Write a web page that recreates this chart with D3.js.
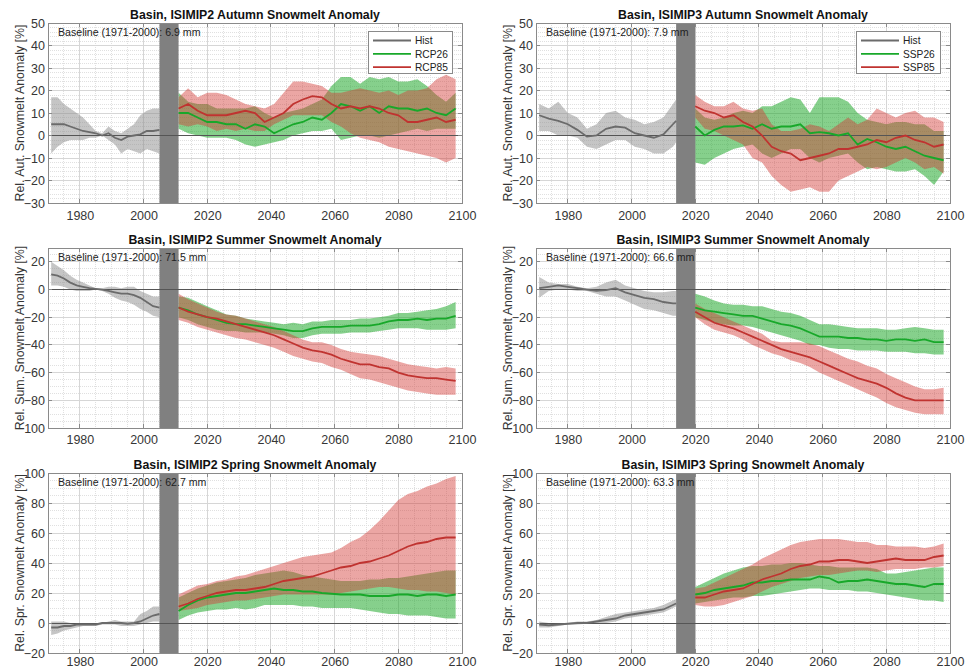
<!DOCTYPE html>
<html>
<head>
<meta charset="utf-8">
<script src="https://cdn.jsdelivr.net/npm/d3@7"></script>
<style>
  html, body { margin: 0; padding: 0; background: #fff; }
  svg { display: block; font-family: "Liberation Sans", Arial, sans-serif; }
</style>
</head>
<body>
<svg id="chart" width="965" height="670"></svg>
<script>
// ---- time axes -------------------------------------------------------------
const yrsHist2 = [1971,1973,1975,1977,1979,1981,1983,1985,1987,1989,1991,1993,1995,1997,1999,2001,2003,2005];
const yrsFut2  = [2011,2014,2017,2020,2023,2026,2029,2032,2035,2038,2041,2044,2047,2050,2053,2056,2059,2062,2065,2068,2071,2074,2077,2080,2083,2086,2089,2092,2095,2098];
const yrsHist3 = [1971,1974,1977,1980,1983,1986,1989,1992,1995,1998,2001,2004,2007,2010,2013,2014];
const yrsFut3  = [2020,2023,2026,2029,2032,2035,2038,2041,2044,2047,2050,2053,2056,2059,2062,2065,2068,2071,2074,2077,2080,2083,2086,2089,2092,2095,2098];
const xTicks = [1980,2000,2020,2040,2060,2080,2100];

// ---- Autumn, ISIMIP2 ------------------------------------------------------
const aut2HistMean = [5,5,5,4,3,2,1.5,1,0,1,-1,-2,-0.5,0,0.5,2,2,2.5];
const aut2HistLo   = [-8,-5,-3,-2,-2,-2,-1,-1,0,-2,-4,-8,-6,-7,-8,-6,-7,-8];
const aut2HistHi   = [17,17,14,12,10,8,5,2,1,4,2,1,3,5,9,11,12,12];
const aut2R26Mean  = [10,10,8,6,6,5,5,3,5,4,1,3,5,6,8,7,10,14,13,11,13,10,13,12,12,11,12,10,9,12];
const aut2R26Hi    = [19,15,14,14,12,12,12,12,13,10,8,10,11,12,14,16,22,26,26,23,26,25,26,24,24,25,22,18,15,19];
const aut2R26Lo    = [3,1,0,-1,-1,-1,-2,-4,-5,-4,-3,-2,0,1,2,2,3,-2,-1,0,0,-1,0,1,2,3,2,3,3,3];
const aut2R85Mean  = [12,14,11,9,9,9,10,11,10,6,8,10,14,16,17.5,17,14,12,13,12,13,12,10,9,6,6,7,8,6,7];
const aut2R85Hi    = [17,21,17,19,19,18,16,14,13,12,14,19,24,24,23,22,19,19,20,21,20,19,20,18,20,20,21,25,27,25];
const aut2R85Lo    = [5,4,5,4,2,3,2,3,2,2,5,7,9,9,9,9,6,4,1,-1,-2,-3,-5,-6,-7,-8,-9,-10,-12,-10];

// ---- Autumn, ISIMIP3 ------------------------------------------------------
const aut3HistMean = [9,7.5,6.5,5,2.5,-0.5,0,3,4,3.5,1,0,-1,0.5,5,6.5];
const aut3HistHi   = [14,12,15,10,8,3,5,10,11,8,7,5,6,8,14,16];
const aut3HistLo   = [2,2,0,0,-1,-5,-6,-4,-2,-2,-5,-6,-8,-8,-5,-3];
const aut3S26Mean  = [4,0,2.5,4,4,4.5,3,5,3,4,4,5,1,1.5,1,0,1,-4,-1.5,-3,-5,-6,-5,-7,-9,-10,-11];
const aut3S26Hi    = [12,8,7,8,10,11,10,13,13,15,17,16,10,17,17,17,15,10,7,6,5,6,6,5,5,2,2];
const aut3S26Lo    = [-12,-13,-10,-8,-6,-5,-4,-8,-10,-8,-6,-6,-10,-12,-10,-9,-8,-12,-15,-14,-15,-16,-16,-15,-18,-22,-16];
const aut3S85Mean  = [13,11,10,8,9,6,4,0,-5,-7,-8,-11,-10,-9,-8,-6,-6,-5,-4,-2,-3,-1,0,-2,-3,-5,-4];
const aut3S85Hi    = [18,15,13,13,15,12,11,12,5,2,2,3,5,4,2,5,8,5,7,12,10,8,10,11,8,8,6];
const aut3S85Lo    = [8,3,2,0,-2,-4,-10,-12,-18,-22,-25,-24,-23,-25,-25,-20,-18,-16,-14,-15,-14,-12,-10,-12,-15,-14,-17];

// ---- Summer, ISIMIP2 ------------------------------------------------------
const sum2HistMean = [11,10,8,5,3,2,1,0.5,0,-1,-2,-3,-3,-4,-6,-9,-12,-13];
const sum2HistHi   = [20,17,14,10,7,5,3,1,1,2,2,1,2,2,-1,-3,-5,-5];
const sum2HistLo   = [3,3,2,0,-1,-1,-1,0,-1,-3,-6,-8,-9,-11,-14,-16,-19,-20];
const sum2R26Mean  = [-13,-15,-18,-20,-22,-24,-25,-25,-26,-27,-28,-29,-30,-30,-28,-27,-27,-27,-26,-26,-26,-25,-23,-22,-22,-21,-22,-21,-21,-19];
const sum2R26Hi    = [-5,-6,-9,-12,-15,-18,-19,-21,-22,-23,-24,-25,-24,-25,-23,-23,-22,-22,-22,-21,-21,-20,-19,-17,-17,-16,-15,-14,-12,-9];
const sum2R26Lo    = [-20,-22,-25,-27,-29,-30,-30,-31,-31,-31,-32,-33,-35,-35,-33,-32,-32,-32,-31,-31,-31,-30,-29,-28,-28,-28,-29,-29,-29,-28];
const sum2R85Mean  = [-13,-16,-18,-20,-21,-23,-25,-27,-29,-31,-33,-36,-39,-42,-44,-45,-47,-50,-52,-54,-54,-56,-57,-60,-62,-63,-64,-64,-65,-66];
const sum2R85Hi    = [-3,-7,-10,-13,-16,-18,-19,-21,-23,-25,-27,-30,-33,-36,-38,-38,-40,-43,-45,-46,-47,-48,-50,-52,-54,-55,-56,-57,-56,-57];
const sum2R85Lo    = [-22,-24,-27,-29,-31,-33,-35,-36,-38,-40,-42,-45,-48,-50,-52,-53,-56,-58,-61,-64,-65,-67,-69,-71,-73,-74,-75,-76,-76,-76];

// ---- Summer, ISIMIP3 ------------------------------------------------------
const sum3HistMean = [1,2,3,2,1,0,-1,-0.5,1,-2,-4,-6,-7,-9,-10,-10];
const sum3HistHi   = [9,5,4,4,2,1,2,5,7,3,1,-1,-2,-2,-1,-1];
const sum3HistLo   = [-6,-1,0,0,-1,-1,-3,-5,-5,-8,-11,-14,-15,-17,-19,-19];
const sum3S26Mean  = [-13,-15,-16,-17,-18,-19,-19,-21,-23,-25,-26,-28,-31,-34,-34,-34,-35,-35,-36,-36,-37,-36,-36,-37,-36,-38,-38];
const sum3S26Hi    = [-3,-5,-8,-10,-11,-11,-12,-12,-14,-16,-17,-19,-22,-25,-25,-26,-27,-28,-28,-28,-29,-29,-28,-27,-28,-29,-29];
const sum3S26Lo    = [-20,-22,-24,-25,-26,-26,-27,-29,-31,-33,-35,-37,-40,-40,-42,-43,-43,-44,-44,-44,-45,-45,-45,-46,-46,-47,-47];
const sum3S85Mean  = [-16,-20,-24,-26,-28,-31,-34,-37,-40,-43,-45,-47,-49,-52,-55,-58,-61,-64,-66,-68,-71,-75,-78,-80,-80,-80,-80];
const sum3S85Hi    = [-10,-14,-17,-20,-23,-26,-29,-32,-37,-38,-38,-38,-39,-41,-44,-47,-50,-52,-55,-57,-61,-64,-67,-70,-72,-72,-71];
const sum3S85Lo    = [-20,-25,-29,-31,-33,-36,-40,-43,-46,-48,-51,-53,-56,-60,-63,-66,-69,-72,-75,-78,-82,-85,-87,-89,-90,-90,-90];

// ---- Spring, ISIMIP2 ------------------------------------------------------
const spr2HistMean = [-3,-3,-2,-2,-1,-1,-1,-1,0,0,0,0,-0.5,0,1,3,5,6];
const spr2HistHi   = [1,1,1,0,0,0,0,0,0,1,2,1,1,1,6,8,11,11];
const spr2HistLo   = [-8,-7,-5,-4,-3,-2,-2,-2,-1,-1,-1,-2,-2,-2,-1,0,1,1];
const spr2R26Mean  = [8,12,15,17,18,19,20,20,21,22,23,22,22,21,21,20,19.5,19,19,19,18,18,18,19,19,18,19,19,18,19];
const spr2R26Hi    = [17,20,23,25,27,28,29,30,32,33,34,35,34,32,31,30,29,28,28,28,29,29,30,30,31,32,33,34,35,35];
const spr2R26Lo    = [2,5,7,8,9,9,10,9,10,12,12,12,12,11,11,10,10,10,10,9,8,7,6,6,5,5,5,4,3,3];
const spr2R85Mean  = [11,13,16,18,20,21,22,22,23,24,26,28,29,30,31,33,35,37,38,40,41,43,45,48,51,53,54,56,57,57];
const spr2R85Hi    = [19,22,25,26,28,29,31,32,34,36,38,40,42,44,45,46,47,50,54,57,62,68,75,82,86,88,91,93,96,98];
const spr2R85Lo    = [8,9,10,12,13,14,15,15,16,17,18,19,19,19,19,19,19,20,21,22,23,24,24,23,22,22,21,21,20,19];

// ---- Spring, ISIMIP3 ------------------------------------------------------
const spr3HistMean = [-1,-1.5,-1,-0.5,0,0,1,2,3,5,6,7,8,9,12,13];
const spr3HistHi   = [1,0,0,0,1,1,2,4,6,7,8,9,10,12,15,16];
const spr3HistLo   = [-3,-3,-2,-1,-1,-0.5,0,0,1,3,4,5,6,7,10,11];
const spr3S26Mean  = [19,20,22,23,24,25,27,27,28,28,29,29,29,31,30,27,28,28,29,28,27,26,26,25,24,26,26];
const spr3S26Hi    = [24,27,30,33,35,37,38,38,39,39,40,40,39,38,38,37,37,37,37,36,33,33,34,35,36,37,37];
const spr3S26Lo    = [13,14,15,16,17,17,18,18,19,20,21,22,23,23,22,22,22,21,21,20,19,18,17,16,15,15,14];
const spr3S85Mean  = [17,17,19,21,22,23,26,29,31,33,36,38,39,41,41,42,42,41,40,41,42,43,42,42,42,44,45];
const spr3S85Hi    = [23,24,27,30,33,36,39,43,46,49,52,54,55,56,56,56,55,54,54,52,52,51,51,51,50,51,53];
const spr3S85Lo    = [12,11,11,12,14,16,18,21,24,26,28,30,31,32,32,33,34,35,35,34,35,36,36,36,37,37,38];

// ---- panel definitions -----------------------------------------------------
const panels = [
  { col: 0, row: 0, title: "Basin, ISIMIP2 Autumn Snowmelt Anomaly", ylab: "Rel. Aut. Snowmelt Anomaly [%]",
    base: "Baseline (1971-2000): 6.9 mm", ydom: [-30, 50], ystep: 10, yminor: 2, gap: [2005, 2011],
    hy: yrsHist2, fy: yrsFut2,
    hist: [aut2HistMean, aut2HistLo, aut2HistHi], low: [aut2R26Mean, aut2R26Lo, aut2R26Hi], high: [aut2R85Mean, aut2R85Lo, aut2R85Hi],
    legend: ["Hist", "RCP26", "RCP85"] },
  { col: 1, row: 0, title: "Basin, ISIMIP3 Autumn Snowmelt Anomaly", ylab: "Rel. Aut. Snowmelt Anomaly [%]",
    base: "Baseline (1971-2000): 7.9 mm", ydom: [-30, 50], ystep: 10, yminor: 2, gap: [2014, 2020],
    hy: yrsHist3, fy: yrsFut3,
    hist: [aut3HistMean, aut3HistLo, aut3HistHi], low: [aut3S26Mean, aut3S26Lo, aut3S26Hi], high: [aut3S85Mean, aut3S85Lo, aut3S85Hi],
    legend: ["Hist", "SSP26", "SSP85"] },
  { col: 0, row: 1, title: "Basin, ISIMIP2 Summer Snowmelt Anomaly", ylab: "Rel. Sum. Snowmelt Anomaly [%]",
    base: "Baseline (1971-2000): 71.5 mm", ydom: [-100, 30], ystep: 20, yminor: 5, gap: [2005, 2011],
    hy: yrsHist2, fy: yrsFut2,
    hist: [sum2HistMean, sum2HistLo, sum2HistHi], low: [sum2R26Mean, sum2R26Lo, sum2R26Hi], high: [sum2R85Mean, sum2R85Lo, sum2R85Hi] },
  { col: 1, row: 1, title: "Basin, ISIMIP3 Summer Snowmelt Anomaly", ylab: "Rel. Sum. Snowmelt Anomaly [%]",
    base: "Baseline (1971-2000): 66.6 mm", ydom: [-100, 30], ystep: 20, yminor: 5, gap: [2014, 2020],
    hy: yrsHist3, fy: yrsFut3,
    hist: [sum3HistMean, sum3HistLo, sum3HistHi], low: [sum3S26Mean, sum3S26Lo, sum3S26Hi], high: [sum3S85Mean, sum3S85Lo, sum3S85Hi] },
  { col: 0, row: 2, title: "Basin, ISIMIP2 Spring Snowmelt Anomaly", ylab: "Rel. Spr. Snowmelt Anomaly [%]",
    base: "Baseline (1971-2000): 62.7 mm", ydom: [-20, 100], ystep: 20, yminor: 5, gap: [2005, 2011],
    hy: yrsHist2, fy: yrsFut2,
    hist: [spr2HistMean, spr2HistLo, spr2HistHi], low: [spr2R26Mean, spr2R26Lo, spr2R26Hi], high: [spr2R85Mean, spr2R85Lo, spr2R85Hi] },
  { col: 1, row: 2, title: "Basin, ISIMIP3 Spring Snowmelt Anomaly", ylab: "Rel. Spr. Snowmelt Anomaly [%]",
    base: "Baseline (1971-2000): 63.3 mm", ydom: [-20, 100], ystep: 20, yminor: 5, gap: [2014, 2020],
    hy: yrsHist3, fy: yrsFut3,
    hist: [spr3HistMean, spr3HistLo, spr3HistHi], low: [spr3S26Mean, spr3S26Lo, spr3S26Hi], high: [spr3S85Mean, spr3S85Lo, spr3S85Hi] }
];

// ---- layout and styles -----------------------------------------------------
const colLeft = [48, 536];
const rowTop = [23, 248, 473];
const rowTickPad = [8, 7, 4];
const PW = 414, PH = 180;
const style = {
  histLine: "#6b6b6b", histFill: "#8c8c8c", histOpacity: 0.5,
  lowLine: "#18a82a", lowFill: "#22aa2e", lowOpacity: 0.55,
  highLine: "#c03330", highFill: "#d23a36", highOpacity: 0.45,
  gap: "#808080", axis: "#8a8a8a", text: "#363636",
  gridMajor: "#d6d6d6", gridMinor: "#e0e0e0", meanWidth: 1.8
};

const svg = d3.select("#chart");

panels.forEach(p => {
  const left = colLeft[p.col], top = rowTop[p.row];
  const g = svg.append("g").attr("transform", `translate(${left},${top})`);
  const x = d3.scaleLinear().domain([1970, 2100]).range([0, PW]);
  const y = d3.scaleLinear().domain(p.ydom).range([PH, 0]);

  g.append("rect").attr("width", PW).attr("height", PH).attr("fill", "#fff");

  // minor grid
  const xMinor = d3.range(1970, 2100.1, 5);
  const yMinor = d3.range(p.ydom[0], p.ydom[1] + 0.1, p.yminor);
  const grid = g.append("g").attr("shape-rendering", "crispEdges");
  grid.selectAll(".vmin").data(xMinor).join("line")
    .attr("x1", d => x(d)).attr("x2", d => x(d)).attr("y1", 0).attr("y2", PH)
    .attr("stroke", style.gridMinor).attr("stroke-dasharray", "1,1");
  grid.selectAll(".hmin").data(yMinor).join("line")
    .attr("y1", d => y(d)).attr("y2", d => y(d)).attr("x1", 0).attr("x2", PW)
    .attr("stroke", style.gridMinor).attr("stroke-dasharray", "1,1");
  // major grid
  const yMajor = d3.range(p.ydom[0], p.ydom[1] + 0.1, p.ystep);
  grid.selectAll(".vmaj").data(xTicks).join("line")
    .attr("x1", d => x(d)).attr("x2", d => x(d)).attr("y1", 0).attr("y2", PH)
    .attr("stroke", style.gridMajor);
  grid.selectAll(".hmaj").data(yMajor).join("line")
    .attr("y1", d => y(d)).attr("y2", d => y(d)).attr("x1", 0).attr("x2", PW)
    .attr("stroke", style.gridMajor);

  const area = (yrs, lo, hi) => d3.area()
    .x((d, i) => x(yrs[i])).y0((d, i) => y(lo[i])).y1((d, i) => y(hi[i]))(yrs);
  const line = (yrs, vals) => d3.line()
    .x((d, i) => x(yrs[i])).y((d, i) => y(vals[i]))(yrs);

  // uncertainty bands
  g.append("path").attr("d", area(p.hy, p.hist[1], p.hist[2]))
    .attr("fill", style.histFill).attr("fill-opacity", style.histOpacity);
  g.append("path").attr("d", area(p.fy, p.low[1], p.low[2]))
    .attr("fill", style.lowFill).attr("fill-opacity", style.lowOpacity);
  g.append("path").attr("d", area(p.fy, p.high[1], p.high[2]))
    .attr("fill", style.highFill).attr("fill-opacity", style.highOpacity);

  // gap between historical and scenario periods
  g.append("rect").attr("x", x(p.gap[0])).attr("width", x(p.gap[1]) - x(p.gap[0]))
    .attr("y", 0).attr("height", PH).attr("fill", style.gap);

  // zero reference
  g.append("line").attr("x1", 0).attr("x2", PW).attr("y1", y(0)).attr("y2", y(0))
    .attr("stroke", "#555").attr("stroke-width", 1).attr("shape-rendering", "crispEdges");

  // ensemble means
  g.append("path").attr("d", line(p.hy, p.hist[0])).attr("fill", "none")
    .attr("stroke", style.histLine).attr("stroke-width", style.meanWidth);
  g.append("path").attr("d", line(p.fy, p.low[0])).attr("fill", "none")
    .attr("stroke", style.lowLine).attr("stroke-width", style.meanWidth);
  g.append("path").attr("d", line(p.fy, p.high[0])).attr("fill", "none")
    .attr("stroke", style.highLine).attr("stroke-width", style.meanWidth);

  // frame with inward ticks
  const frame = g.append("g").attr("shape-rendering", "crispEdges").attr("stroke", style.axis);
  frame.append("rect").attr("width", PW).attr("height", PH).attr("fill", "none");
  xTicks.forEach(t => {
    frame.append("line").attr("x1", x(t)).attr("x2", x(t)).attr("y1", PH).attr("y2", PH - 4);
    frame.append("line").attr("x1", x(t)).attr("x2", x(t)).attr("y1", 0).attr("y2", 4);
  });
  yMajor.forEach(t => {
    frame.append("line").attr("y1", y(t)).attr("y2", y(t)).attr("x1", 0).attr("x2", 4);
    frame.append("line").attr("y1", y(t)).attr("y2", y(t)).attr("x1", PW).attr("x2", PW - 4);
  });

  // axes labels
  const ax = g.append("g").attr("transform", `translate(0,${PH})`)
    .call(d3.axisBottom(x).tickValues(xTicks).tickSize(0).tickPadding(rowTickPad[p.row]).tickFormat(d3.format("d")));
  const ay = g.append("g")
    .call(d3.axisLeft(y).tickValues(yMajor).tickSize(0).tickPadding(3));
  [ax, ay].forEach(a => {
    a.select(".domain").remove();
    a.selectAll("text").attr("fill", style.text).style("font-size", "12.5px")
      .style("font-family", "'Liberation Sans', Arial, sans-serif");
  });

  g.append("text").attr("x", PW / 2).attr("y", -4).attr("text-anchor", "middle")
    .attr("font-size", 12.3).attr("font-weight", "bold").attr("fill", "#111").text(p.title);

  g.append("text").attr("transform", `translate(${-24},${PH / 2}) rotate(-90)`)
    .attr("text-anchor", "middle").attr("font-size", 12.4).attr("fill", style.text).text(p.ylab);

  g.append("text").attr("x", 10).attr("y", 13).attr("font-size", 10.6).attr("fill", "#222").text(p.base);

  // legend
  if (p.legend) {
    const lg = g.append("g").attr("transform", `translate(${PW - 94},${8})`);
    lg.append("rect").attr("width", 84).attr("height", 42).attr("fill", "#fff")
      .attr("stroke", "#8a8a8a").attr("shape-rendering", "crispEdges");
    const cols = [style.histLine, style.lowLine, style.highLine];
    p.legend.forEach((name, i) => {
      const cy = 9.5 + i * 13.3;
      lg.append("line").attr("x1", 5).attr("x2", 43).attr("y1", cy).attr("y2", cy)
        .attr("stroke", cols[i]).attr("stroke-width", style.meanWidth);
      lg.append("text").attr("x", 47).attr("y", cy + 3.7).attr("text-anchor", "start")
        .attr("font-size", 10.2).attr("fill", "#222").text(name);
    });
  }
});
</script>
</body>
</html>
